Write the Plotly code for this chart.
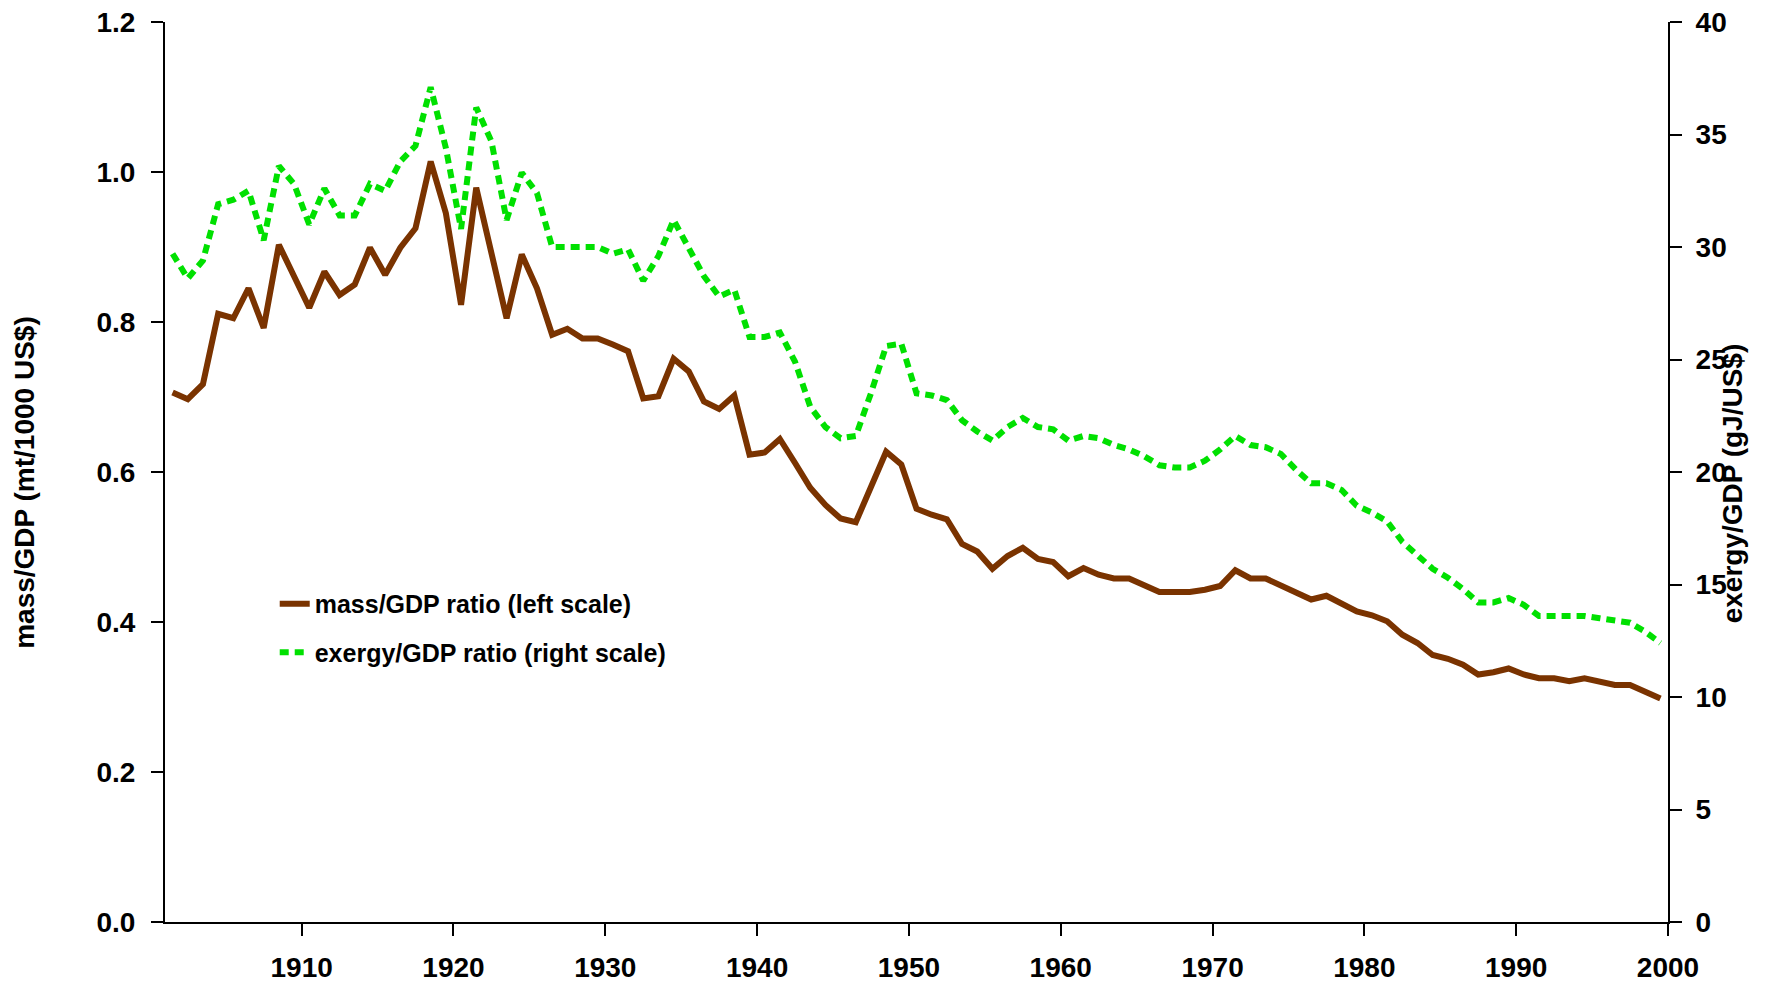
import plotly.graph_objects as go

years = list(range(1901, 2000))

mass_gdp = [
    0.706, 0.697, 0.717, 0.811, 0.805, 0.845, 0.792, 0.903, 0.861, 0.819,
    0.867, 0.836, 0.850, 0.899, 0.863, 0.899, 0.925, 1.014, 0.945, 0.823,
    0.979, 0.892, 0.805, 0.890, 0.845, 0.783, 0.791, 0.778, 0.778, 0.770,
    0.761, 0.698, 0.701, 0.751, 0.734, 0.694, 0.684, 0.702, 0.623, 0.626,
    0.644, 0.612, 0.579, 0.556, 0.538, 0.533, 0.580, 0.627, 0.610, 0.551,
    0.543, 0.537, 0.504, 0.494, 0.471, 0.488, 0.499, 0.484, 0.480, 0.461,
    0.472, 0.463, 0.458, 0.458, 0.449, 0.440, 0.440, 0.440, 0.443, 0.448,
    0.469, 0.458, 0.458, 0.449, 0.439, 0.430, 0.435, 0.425, 0.414, 0.409,
    0.401, 0.383, 0.372, 0.356, 0.351, 0.343, 0.330, 0.333, 0.338, 0.330,
    0.325, 0.325, 0.321, 0.325, 0.321, 0.316, 0.316, 0.307, 0.298,
]

exergy_gdp = [
    29.7, 28.6, 29.4, 31.9, 32.1, 32.5, 30.3, 33.6, 32.8, 31.0,
    32.6, 31.4, 31.4, 32.8, 32.5, 33.8, 34.5, 37.1, 34.4, 30.8,
    36.2, 34.7, 31.2, 33.3, 32.4, 30.0, 30.0, 30.0, 30.0, 29.7,
    29.9, 28.5, 29.6, 31.2, 30.0, 28.7, 27.8, 28.1, 26.0, 26.0,
    26.2, 24.9, 22.9, 22.0, 21.5, 21.6, 23.5, 25.6, 25.7, 23.5,
    23.4, 23.2, 22.3, 21.8, 21.4, 22.0, 22.4, 22.0, 21.9, 21.4,
    21.6, 21.5, 21.2, 21.0, 20.7, 20.3, 20.2, 20.2, 20.5, 21.0,
    21.6, 21.2, 21.1, 20.8, 20.1, 19.5, 19.5, 19.2, 18.5, 18.2,
    17.8, 16.9, 16.3, 15.7, 15.3, 14.8, 14.2, 14.2, 14.4, 14.1,
    13.6, 13.6, 13.6, 13.6, 13.5, 13.4, 13.3, 12.9, 12.4,
]

year_ticks = ["1910", "1920", "1930", "1940", "1950", "1960", "1970", "1980", "1990", "2000"]

FONT = "Liberation Sans, Arial, sans-serif"
BROWN = "#7a3300"
GREEN = "#00e000"

fig = go.Figure()
fig.add_trace(go.Scatter(
    x=years, y=mass_gdp, mode="lines", name="mass/GDP ratio (left scale)",
    line=dict(color=BROWN, width=6), legendgroup="a", yaxis="y",
))
fig.add_trace(go.Scatter(
    x=years, y=exergy_gdp, mode="lines", name="exergy/GDP ratio (right scale)",
    line=dict(color=GREEN, width=6, dash="9px,6px"), legendgroup="b", yaxis="y2",
))

tick_font = dict(family=FONT, size=28, color="black", weight="bold")
axis_common = dict(showline=True, linecolor="black", linewidth=2, ticks="outside",
                   ticklen=12, tickwidth=2, tickcolor="black", showgrid=False,
                   zeroline=False, automargin=False, tickfont=tick_font,
                   ticklabeloverflow="allow")

# page body adds an 8px offset, so margins are trimmed by that amount
fig.update_layout(
    width=1766, height=991,
    paper_bgcolor="white", plot_bgcolor="white",
    margin=dict(l=157, r=106, t=14, b=77, autoexpand=False),
    font=dict(family=FONT, color="black"),
    xaxis=dict(range=[1900.5, 1999.5], tickvals=[int(t) - 0.5 for t in year_ticks],
               ticktext=year_ticks, ticklabelstandoff=7, **axis_common),
    yaxis=dict(range=[0, 1.2], dtick=0.2, tickformat=".1f", ticklabelstandoff=10,
               **axis_common),
    yaxis2=dict(range=[0, 40], dtick=5, overlaying="y", side="right", anchor="x",
                ticklabelstandoff=8, **axis_common),
    yaxis3=dict(range=[0, 1.2], dtick=0.2, overlaying="y", side="left", anchor="x",
                showline=False, ticks="inside", ticklen=12, tickwidth=2, automargin=False,
                tickcolor="black", showticklabels=False, showgrid=False, zeroline=False),
    legend=dict(x=0.073, y=0.379, xanchor="left", yanchor="top",
                font=dict(family=FONT, size=25, color="black", weight="bold"),
                bgcolor="rgba(0,0,0,0)", tracegroupgap=13, traceorder="grouped"),
    annotations=[
        dict(text="mass/GDP (mt/1000 US$)", textangle=-90, xref="paper", yref="paper",
             x=-0.0932, y=0.489, xanchor="center", yanchor="middle", showarrow=False,
             font=dict(family=FONT, size=28, color="black", weight="bold")),
        dict(text="exergy/GDP (gJ/US$)", textangle=-90, xref="paper", yref="paper",
             x=1.043, y=0.487, xanchor="center", yanchor="middle", showarrow=False,
             font=dict(family=FONT, size=28, color="black", weight="bold")),
    ],
)

fig.write_html("out.html")
